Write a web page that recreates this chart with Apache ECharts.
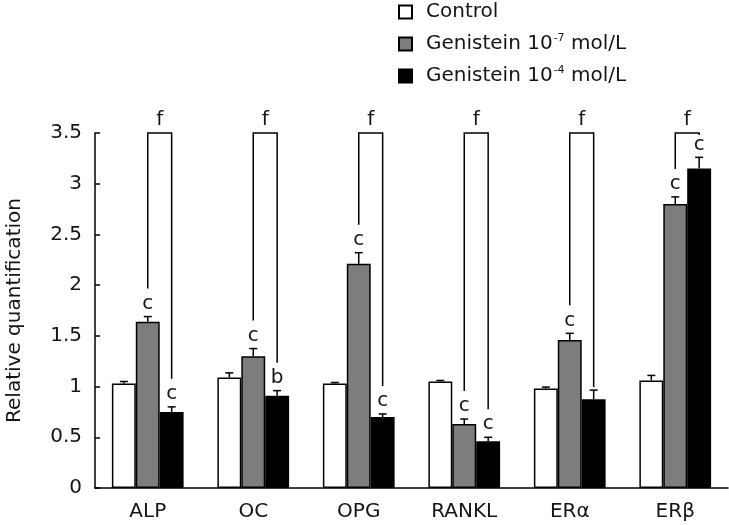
<!DOCTYPE html>
<html><head><meta charset="utf-8">
<script src="https://cdn.jsdelivr.net/npm/echarts@6/dist/echarts.min.js"></script>
<style>html,body{margin:0;padding:0;background:#fff}#c{width:729px;height:525px}</style>
</head><body><div id="c"></div>
<script>
// ---- data ----
const categories = ['ALP', 'OC', 'OPG', 'RANKL', 'ERα', 'ERβ'];
const seriesNames = ['Control', 'Genistein 10-7 mol/L', 'Genistein 10-4 mol/L'];
const control    = [1.03, 1.09, 1.03, 1.05, 0.98, 1.06];
const controlErr = [0.02, 0.045, 0.01, 0.01, 0.015, 0.05];
const gen7       = [1.64, 1.30, 2.21, 0.63, 1.46, 2.80];
const gen7Err    = [0.05, 0.075, 0.11, 0.05, 0.065, 0.07];
const gen4       = [0.75, 0.91, 0.70, 0.46, 0.875, 3.15];
const gen4Err    = [0.05, 0.05, 0.03, 0.04, 0.09, 0.11];
const gen7Sig    = ['c', 'c', 'c', 'c', 'c', 'c'];
const gen4Sig    = ['c', 'b', 'c', 'c', '', 'c'];
const bracketSig = ['f', 'f', 'f', 'f', 'f', 'f'];
const bracketTop = 3.5;
const yMin = 0, yMax = 3.5, yInterval = 0.5;

// ---- build ----
const FONT = 'DejaVu Sans';
const TXT = '#151515';
const colors = ['#ffffff', '#7d7d7d', '#000000'];
const values = [control, gen7, gen4];
const errs = [controlErr, gen7Err, gen4Err];
const sigs = [null, gen7Sig, gen4Sig];
const GAP = 0.32;

function barOffset(api, s) {
  const bw = api.size([1, 0])[0];
  const w = bw * (1 - GAP) / 3;
  return { off: -1.5 * w + w * (s + 0.5), w: w };
}

const errRows = [];
for (let s = 0; s < 3; s++) for (let c = 0; c < categories.length; c++) {
  errRows.push([c, values[s][c] + errs[s][c], s, values[s][c]]);
}
const brRows = categories.map((_, c) => [c, bracketTop]);

const chart = echarts.init(document.getElementById('c'));
const barSeries = seriesNames.map((n, s) => ({
  name: n, type: 'bar', data: values[s],
  barGap: '0%', barCategoryGap: (GAP * 100) + '%',
  itemStyle: { color: colors[s], borderColor: '#000', borderWidth: 1.5 },
  emphasis: { disabled: true }, z: 2
}));

chart.setOption({
  animation: false,
  textStyle: { fontFamily: FONT, color: TXT },
  grid: { left: 95, right: 1, top: 133, bottom: 37, outerBoundsMode: 'none', containLabel: false },
  legend: {
    data: seriesNames, orient: 'vertical', left: 398, top: 1, padding: 0,
    itemWidth: 13, itemHeight: 13, itemGap: 10, icon: 'rect',
    selectedMode: false,
    formatter: function (name) {
      const m = name.match(/^(.*10)(-\d)( mol\/L)$/);
      if (m) return '{p| }{n|' + m[1] + '}{s|' + m[2] + '}{n|' + m[3] + '}';
      return '{p| }{n|' + name + '}';
    },
    textStyle: {
      fontFamily: FONT, fontSize: 20, color: TXT, lineHeight: 22,
      rich: {
        p: { width: 9, fontSize: 10 },
        n: { fontFamily: FONT, fontSize: 20, color: TXT, lineHeight: 22 },
        s: { fontFamily: FONT, fontSize: 11, color: TXT, lineHeight: 12, verticalAlign: 'top', padding: [0, 0, 0, 1] }
      }
    }
  },
  xAxis: {
    type: 'category', data: categories,
    axisLine: { lineStyle: { color: '#000', width: 1.5 } },
    axisTick: { inside: true, length: 5, lineStyle: { color: '#000', width: 1.5 } },
    axisLabel: { fontFamily: FONT, fontSize: 20, color: TXT, margin: 14 }
  },
  yAxis: {
    type: 'value', min: yMin, max: yMax, interval: yInterval,
    name: 'Relative quantification', nameLocation: 'middle', nameGap: 70, nameRotate: 90,
    nameTextStyle: { fontFamily: FONT, fontSize: 20, color: TXT },
    axisLine: { show: true, lineStyle: { color: '#000', width: 1.5 } },
    axisTick: { show: true, inside: true, length: 5, lineStyle: { color: '#000', width: 1.5 } },
    splitLine: { show: false },
    axisLabel: { fontFamily: FONT, fontSize: 20, color: TXT, margin: 13 }
  },
  series: barSeries.concat([
    {
      type: 'custom', name: 'err', data: errRows, encode: { x: 0, y: 1 }, z: 5, clip: false,
      silent: true,
      renderItem: function (params, api) {
        const row = errRows[params.dataIndex];
        const c = row[0], s = row[2];
        const o = barOffset(api, s);
        const top = api.coord([c, row[1]]);
        const base = api.coord([c, row[3]]);
        const x = top[0] + o.off;
        const ch = [
          { type: 'line', shape: { x1: x, y1: base[1], x2: x, y2: top[1] }, style: { stroke: '#000', lineWidth: 1.5 } },
          { type: 'line', shape: { x1: x - 4, y1: top[1], x2: x + 4, y2: top[1] }, style: { stroke: '#000', lineWidth: 1.5 } }
        ];
        const sig = sigs[s] ? sigs[s][c] : '';
        if (sig) ch.push({ type: 'text', style: { text: sig, x: x, y: top[1] - 13, align: 'center', verticalAlign: 'middle', fontFamily: FONT, fontSize: 20, fill: TXT } });
        return { type: 'group', children: ch };
      }
    },
    {
      type: 'custom', name: 'brackets', data: brRows, encode: { x: 0, y: 1 }, z: 5, clip: false,
      silent: true,
      renderItem: function (params, api) {
        const c = params.dataIndex;
        const o7 = barOffset(api, 1), o4 = barOffset(api, 2);
        const topPt = api.coord([c, bracketTop]);
        const x7 = topPt[0] + o7.off, x4 = topPt[0] + o4.off;
        const e7 = api.coord([c, gen7[c] + gen7Err[c]])[1];
        const e4 = api.coord([c, gen4[c] + gen4Err[c]])[1];
        let l7 = e7 - (gen7Sig[c] ? 28 : 3);
        let l4 = e4 - (gen4Sig[c] ? 28 : 3);
        l7 = Math.max(l7, topPt[1] + 2);
        l4 = Math.max(l4, topPt[1] + 2);
        return { type: 'group', children: [
          { type: 'polyline', shape: { points: [[x7, l7], [x7, topPt[1]], [x4, topPt[1]], [x4, l4]] }, style: { stroke: '#000', lineWidth: 1.5, fill: null } },
          { type: 'text', style: { text: bracketSig[c], x: (x7 + x4) / 2, y: topPt[1] - 13, align: 'center', verticalAlign: 'middle', fontFamily: FONT, fontSize: 20, fill: TXT } }
        ] };
      }
    }
  ])
});
</script>
</body></html>
